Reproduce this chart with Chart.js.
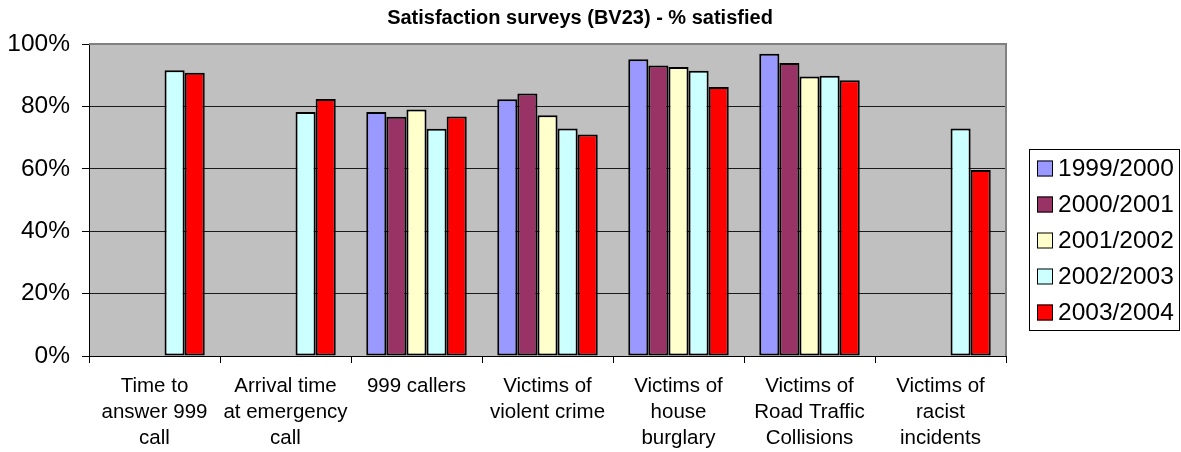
<!DOCTYPE html>
<html>
<head>
<meta charset="utf-8">
<script src="https://cdn.jsdelivr.net/npm/chart.js"></script>
<style>
  body { margin: 0; background: #fff; }
</style>
</head>
<body>
<canvas id="chart" width="1181" height="452"></canvas>
<script>
// Chart data
const chartTitle = 'Satisfaction surveys (BV23) - % satisfied';
const categories = [
    ['Time to', 'answer 999', 'call'],
    ['Arrival time', 'at emergency', 'call'],
    ['999 callers'],
    ['Victims of', 'violent crime'],
    ['Victims of', 'house', 'burglary'],
    ['Victims of', 'Road Traffic', 'Collisions'],
    ['Victims of', 'racist', 'incidents']
];
const seriesNames = ['1999/2000', '2000/2001', '2001/2002', '2002/2003', '2003/2004'];
const y1999 = [null, null, 78.2, 82.3, 95.1, 96.9, null];
const y2000 = [null, null, 76.7, 84.1, 93.1, 93.9, null];
const y2001 = [null, null, 79.0, 77.2, 92.6, 89.6, null];
const y2002 = [91.6, 78.2, 72.8, 72.9, 91.4, 89.8, 72.9];
const y2003 = [90.8, 82.4, 76.8, 71.0, 86.2, 88.4, 59.6];
const yTicks = [0, 20, 40, 60, 80, 100];

const seriesValues = [y1999, y2000, y2001, y2002, y2003];
const seriesColors = ['#9999FF', '#993366', '#FFFFCC', '#CCFFFF', '#FF0000'];
const FONT = "'Liberation Sans', Arial, sans-serif";

// plot background, grey frame, title and the legend box on the right
const excelLook = {
    id: 'excelLook',
    beforeDraw(chart) {
        const { ctx, chartArea: a } = chart;
        ctx.save();
        ctx.fillStyle = '#C0C0C0';
        ctx.fillRect(a.left, a.top, a.right - a.left, a.bottom - a.top);
        ctx.restore();
    },
    beforeDatasetsDraw(chart) {
        const { ctx, chartArea: a } = chart;
        ctx.save();
        ctx.strokeStyle = '#808080';
        ctx.lineWidth = 2;
        ctx.beginPath();
        ctx.moveTo(a.left, a.top);
        ctx.lineTo(a.right, a.top);
        ctx.lineTo(a.right, a.bottom);
        ctx.stroke();
        ctx.restore();
    },
    afterDraw(chart) {
        const ctx = chart.ctx;
        ctx.save();
        // title
        ctx.fillStyle = '#000';
        ctx.font = 'bold 20px ' + FONT;
        ctx.textAlign = 'center';
        ctx.textBaseline = 'middle';
        ctx.fillText(chartTitle, 580, 18);

        // legend
        ctx.strokeStyle = '#000';
        ctx.lineWidth = 1;
        ctx.strokeRect(1029.5, 149.5, 150, 181);
        ctx.font = '24.5px ' + FONT;
        ctx.textAlign = 'left';
        chart.data.datasets.forEach((ds, i) => {
            const cy = 168.5 + i * 36;
            ctx.fillStyle = ds.backgroundColor;
            ctx.fillRect(1037, cy - 8, 16, 16);
            ctx.strokeRect(1037.5, cy - 7.5, 15, 15);
            ctx.fillStyle = '#000';
            ctx.fillText(ds.label, 1058, cy + 1);
        });
        ctx.restore();
    }
};

new Chart(document.getElementById('chart'), {
    type: 'bar',
    data: {
        labels: categories,
        datasets: seriesNames.map((name, i) => ({
            label: name,
            data: seriesValues[i],
            backgroundColor: seriesColors[i],
            borderColor: '#000',
            borderWidth: 2,
            borderSkipped: false,
            categoryPercentage: 0.767,
            barPercentage: 1.0
        }))
    },
    options: {
        responsive: false,
        animation: false,
        devicePixelRatio: 1,
        layout: { padding: { top: 44, right: 175, left: 0, bottom: 0 } },
        plugins: {
            legend: { display: false },
            title: { display: false },
            tooltip: { enabled: false }
        },
        scales: {
            x: {
                offset: true,
                grid: {
                    offset: true,
                    drawOnChartArea: false,
                    color: '#000',
                    tickLength: 7
                },
                border: { color: '#000', width: 1 },
                ticks: {
                    color: '#000',
                    font: { family: FONT, size: 20.5, lineHeight: 1.27 },
                    padding: 10,
                    maxRotation: 0,
                    autoSkip: false
                },
                afterFit(scale) { scale.height = 96; }
            },
            y: {
                min: 0,
                max: 100,
                afterBuildTicks(scale) { scale.ticks = yTicks.map(v => ({ value: v })); },
                grid: {
                    color: ctx => (ctx.tick && ctx.tick.value === 100) ? '#808080' : '#1a1a1a',
                    tickColor: '#000',
                    tickLength: 7,
                    lineWidth: 1
                },
                border: { color: '#000', width: 1 },
                ticks: {
                    color: '#000',
                    font: { family: FONT, size: 24.5 },
                    padding: 12,
                    callback: v => v + '%'
                },
                afterFit(scale) { scale.width = 89; }
            }
        }
    },
    plugins: [excelLook]
});
</script>
</body>
</html>
